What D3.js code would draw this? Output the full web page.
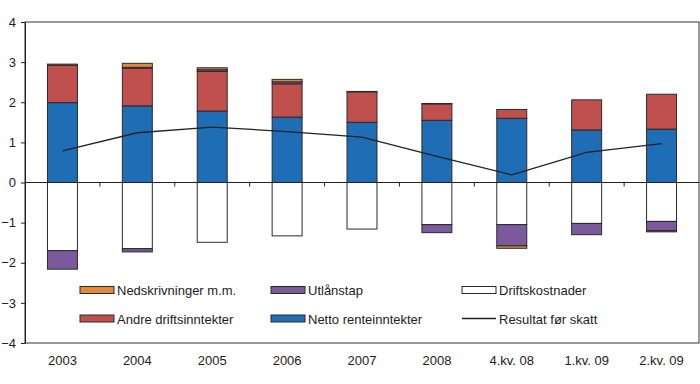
<!DOCTYPE html>
<html lang="en">
    <head>
        <meta charset="utf-8">
        <title>Bankenes resultat</title>
        <script src="https://cdn.jsdelivr.net/npm/d3@7"></script>
        <style type="text/css">
            body { margin: 0; background: #fff; }
            text {
                font-family: "Liberation Sans", Arial, sans-serif;
                fill: #222;
            }
            .axis text { font-size: 13px; }
            .legend text { font-size: 13px; }
        </style>
    </head>
    <body>
        <script type="text/javascript">

            // data (per cent of average total assets)
            var categories = ["2003", "2004", "2005", "2006", "2007", "2008", "4.kv. 08", "1.kv. 09", "2.kv. 09"];
            var netto      = [1.99, 1.91, 1.78, 1.63, 1.50, 1.55, 1.60, 1.31, 1.33];
            var andre      = [0.93, 0.94, 0.99, 0.83, 0.76, 0.41, 0.22, 0.75, 0.87];
            var utlanPos   = [0.00, 0.02, 0.04, 0.05, 0.00, 0.00, 0.00, 0.00, 0.00];
            var nedskPos   = [0.03, 0.10, 0.05, 0.06, 0.01, 0.01, 0.00, 0.00, 0.00];
            var drift      = [-1.70, -1.65, -1.49, -1.33, -1.16, -1.05, -1.05, -1.02, -0.97];
            var utlanNeg   = [-0.46, -0.08, 0.00, 0.00, 0.00, -0.20, -0.53, -0.28, -0.23];
            var nedskNeg   = [0.00, 0.00, 0.00, 0.00, 0.00, 0.00, -0.06, 0.00, -0.03];
            var resultat   = [0.79, 1.24, 1.38, 1.27, 1.13, 0.65, 0.19, 0.75, 0.97];
            var yTicks     = [-4, -3, -2, -1, 0, 1, 2, 3, 4];

            var colNed = "#E0893C", colUtl = "#7A5A9C", colDrift = "#ffffff",
                colAndre = "#C0504D", colNetto = "#1F6DB5";

            var w = 700, h = 384;
            var pL = 25, pR = 699, pT = 22, pB = 343;

            var svg = d3.select("body")
                .append("svg")
                .attr("width", w)
                .attr("height", h);

            var xScale = d3.scaleBand()
                .domain(categories)
                .range([pL, pR])
                .paddingInner(0.6)
                .paddingOuter(0.3);
            var band = (pR - pL) / categories.length;
            var yScale = d3.scaleLinear()
                .domain([-4, 4])
                .range([pB, pT]);

            // frame
            svg.append("rect")
                .attr("x", pL).attr("y", pT)
                .attr("width", pR - pL).attr("height", pB - pT)
                .attr("fill", "none").attr("stroke", "#333").attr("stroke-width", 1);

            // build segments
            var segs = [];
            categories.forEach(function(c, i) {
                var pos = [[netto[i], colNetto], [andre[i], colAndre], [utlanPos[i], colUtl], [nedskPos[i], colNed]];
                var neg = [[drift[i], colDrift], [utlanNeg[i], colUtl], [nedskNeg[i], colNed]];
                var base = 0;
                pos.forEach(function(p) {
                    if (p[0] > 0) segs.push({cat: c, y0: base, y1: base + p[0], fill: p[1]});
                    base += p[0];
                });
                base = 0;
                neg.forEach(function(p) {
                    if (p[0] < 0) segs.push({cat: c, y0: base + p[0], y1: base, fill: p[1]});
                    base += p[0];
                });
            });

            svg.selectAll("rect.seg")
                .data(segs)
                .enter()
                .append("rect")
                .attr("class", "seg")
                .attr("x", function(d) { return xScale(d.cat); })
                .attr("width", xScale.bandwidth())
                .attr("y", function(d) { return yScale(d.y1); })
                .attr("height", function(d) { return yScale(d.y0) - yScale(d.y1); })
                .attr("fill", function(d) { return d.fill; })
                .attr("stroke", "#2a2a2a")
                .attr("stroke-width", 1);

            // zero line with ticks between categories
            svg.append("line")
                .attr("x1", pL).attr("x2", pR)
                .attr("y1", yScale(0)).attr("y2", yScale(0))
                .attr("stroke", "#222");
            svg.selectAll("line.ctick")
                .data(categories.slice(1))
                .enter()
                .append("line")
                .attr("class", "ctick")
                .attr("x1", function(d) { return xScale(d) + xScale.bandwidth() / 2 - band / 2; })
                .attr("x2", function(d) { return xScale(d) + xScale.bandwidth() / 2 - band / 2; })
                .attr("y1", yScale(0))
                .attr("y2", yScale(0) + 4)
                .attr("stroke", "#222");

            // category labels
            var xLab = d3.axisBottom(xScale).tickSize(0).tickPadding(0);
            var gx = svg.append("g")
                .attr("class", "axis")
                .attr("transform", "translate(0," + pB + ")")
                .call(xLab);
            gx.select(".domain").remove();
            gx.selectAll("text").attr("dy", null).attr("y", 22);

            // y axis
            var yAxis = d3.axisLeft(yScale).tickValues(yTicks).tickSize(4).tickPadding(5);
            var gy = svg.append("g")
                .attr("class", "axis")
                .attr("transform", "translate(" + pL + ",0)")
                .call(yAxis);
            gy.select(".domain").attr("stroke", "#222");
            gy.selectAll("line").attr("stroke", "#222");

            // resultat line
            var line = d3.line()
                .x(function(d, i) { return xScale(categories[i]) + xScale.bandwidth() / 2; })
                .y(function(d) { return yScale(d); });
            svg.append("path")
                .datum(resultat)
                .attr("d", line)
                .attr("fill", "none")
                .attr("stroke", "#222")
                .attr("stroke-width", 1.3);

            // legend
            var legendItems = [
                {name: "Nedskrivninger m.m.", fill: colNed, col: 0, row: 0},
                {name: "Utlånstap", fill: colUtl, col: 1, row: 0},
                {name: "Driftskostnader", fill: colDrift, col: 2, row: 0},
                {name: "Andre driftsinntekter", fill: colAndre, col: 0, row: 1},
                {name: "Netto renteinntekter", fill: colNetto, col: 1, row: 1},
                {name: "Resultat før skatt", fill: null, col: 2, row: 1}
            ];
            var colX = [80, 271, 462];
            var rowY = [290, 318.5];
            var lg = svg.append("g").attr("class", "legend");
            legendItems.forEach(function(d) {
                var x = colX[d.col], y = rowY[d.row];
                if (d.fill) {
                    lg.append("rect")
                        .attr("x", x).attr("y", y - 3.5)
                        .attr("width", 34).attr("height", 7)
                        .attr("fill", d.fill)
                        .attr("stroke", "#2a2a2a").attr("stroke-width", 1);
                } else {
                    lg.append("line")
                        .attr("x1", x).attr("x2", x + 34)
                        .attr("y1", y).attr("y2", y)
                        .attr("stroke", "#222").attr("stroke-width", 1.3);
                }
                lg.append("text")
                    .attr("x", x + 37)
                    .attr("y", y + 5)
                    .text(d.name);
            });

        </script>
    </body>
</html>
